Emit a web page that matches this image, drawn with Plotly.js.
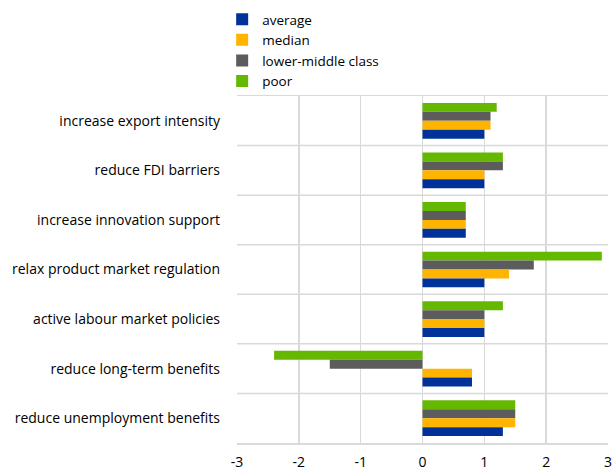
<!DOCTYPE html>
<html>
<head>
<meta charset="utf-8">
<script src="https://cdn.plot.ly/plotly-3.0.1.min.js"></script>
<style>html,body{margin:0;padding:0;background:#fff;}#chart{width:616px;height:471px;}</style>
</head>
<body>
<div id="chart"></div>
<script>
const categories = [
  "increase export intensity",
  "reduce FDI barriers",
  "increase innovation support",
  "relax product market regulation",
  "active labour market policies",
  "reduce long-term benefits",
  "reduce unemployment benefits"
];
const seriesNames = ["average", "median", "lower-middle class", "poor"];
const average = [1.0, 1.0, 0.7, 1.0, 1.0, 0.8, 1.3];
const median = [1.1, 1.0, 0.7, 1.4, 1.0, 0.8, 1.5];
const lowerMiddle = [1.1, 1.3, 0.7, 1.8, 1.0, -1.5, 1.5];
const poor = [1.2, 1.3, 0.7, 2.9, 1.3, -2.4, 1.5];
const xTicks = [-3, -2, -1, 0, 1, 2, 3];

const colors = ["#003299", "#FFB400", "#5C5C5C", "#65B800"];
const values = [average, median, lowerMiddle, poor];

// drawn from top (poor) to bottom (average) within each group
const order = [3, 2, 1, 0];
const traces = order.map(i => ({
  type: "bar",
  orientation: "h",
  name: seriesNames[i],
  x: values[i],
  y: categories,
  marker: {color: colors[i]},
  hoverinfo: "x+name"
}));

const shapes = [];
for (let k = 1; k < categories.length; k++) {
  shapes.push({
    type: "line", xref: "paper", yref: "y",
    x0: 0, x1: 1, y0: k - 0.5, y1: k - 0.5,
    line: {color: "#d9d9d9", width: 1.5}, layer: "below"
  });
}

const font = "Open Sans, Noto Sans, sans-serif";
const layout = {
  width: 616, height: 471,
  margin: {l: 237, r: 8, t: 96, b: 28, autoexpand: false},
  paper_bgcolor: "#fff", plot_bgcolor: "#fff",
  barmode: "group", bargap: 0.28, bargroupgap: 0,
  font: {family: font, size: 14, color: "#000"},
  showlegend: true,
  legend: {
    x: -0.04, xanchor: "left", y: 1.265, yanchor: "top",
    font: {family: font, size: 13.5, color: "#000"},
    traceorder: "reversed", bgcolor: "rgba(0,0,0,0)",
    itemwidth: 30, tracegroupgap: 0
  },
  xaxis: {
    range: [-3, 3], tickvals: xTicks, ticktext: xTicks.map(String),
    showgrid: true, gridcolor: "#d9d9d9", gridwidth: 1.5,
    zeroline: false, showline: true, mirror: true,
    linecolor: "#d9d9d9", linewidth: 1.5, ticks: "",
    tickfont: {family: font, size: 14, color: "#000"}, ticklabelstandoff: 6
  },
  yaxis: {
    type: "category", autorange: "reversed",
    showgrid: false, zeroline: false, showline: false, ticks: "",
    tickfont: {family: font, size: 14, color: "#000"}, ticklabelstandoff: 16
  },
  shapes: shapes
};

Plotly.newPlot("chart", traces, layout, {displayModeBar: false, staticPlot: true});
</script>
</body>
</html>
